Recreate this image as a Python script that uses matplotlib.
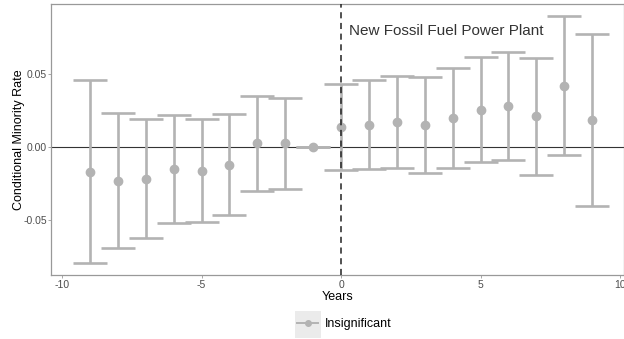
import numpy as np
import matplotlib.pyplot as plt
from matplotlib.lines import Line2D
from matplotlib.patches import Rectangle

plt.rcParams['font.family'] = ['Liberation Sans', 'DejaVu Sans']

years = [-9, -8, -7, -6, -5, -4, -3, -2, -1, 0, 1, 2, 3, 4, 5, 6, 7, 8, 9]
estimate = [-0.0171, -0.0230, -0.0218, -0.0152, -0.0161, -0.0121, 0.0025, 0.0025, 0.0,
            0.0139, 0.0152, 0.0173, 0.0152, 0.0196, 0.0255, 0.0278, 0.0209, 0.0418, 0.0182]
upper = [0.0455, 0.0230, 0.0189, 0.0218, 0.0193, 0.0223, 0.0350, 0.0334, 0.0,
         0.0430, 0.0455, 0.0486, 0.0477, 0.0537, 0.0612, 0.0646, 0.0609, 0.0894, 0.0771]
lower = [-0.0794, -0.0689, -0.0621, -0.0521, -0.0512, -0.0462, -0.0302, -0.0289, 0.0,
         -0.0157, -0.0150, -0.0141, -0.0175, -0.0141, -0.0100, -0.0091, -0.0191, -0.0052, -0.0402]

grey = '#b3b3b3'
est = np.array(estimate)
yerr = [est - np.array(lower), np.array(upper) - est]

fig = plt.figure(figsize=(6.24, 3.39), dpi=100)
ax = fig.add_axes([0.0824, 0.188, 0.9176, 0.799])

ax.axhline(0, color='#333333', linewidth=0.8, zorder=1)
ax.axvline(0, color='#222222', linewidth=1.1, linestyle=(0, (4, 3)), zorder=4)
ax.errorbar(years, estimate, yerr=yerr, fmt='none', ecolor=grey, elinewidth=1.9,
            capsize=12.5, capthick=1.9, zorder=2)
ax.plot(years, estimate, 'o', color=grey, markersize=6, zorder=3)

ax.text(0.3, 0.079, 'New Fossil Fuel Power Plant', fontsize=11, color='#333333',
        va='center', ha='left')

ax.set_xlim(-10.38, 10.14)
ax.set_ylim(-0.0875, 0.0973)
ax.set_xticks([-10, -5, 0, 5, 10])
ax.set_xticklabels(['-10', '-5', '0', '5', '10'])
ax.set_yticks([-0.05, 0.0, 0.05])
ax.set_yticklabels(['-0.05', '0.00', '0.05'])
ax.tick_params(length=2.5, width=0.6, color='#999999', labelcolor='#4d4d4d',
               labelsize=7.5, pad=0.8)
for s in ax.spines.values():
    s.set_color('#999999')
    s.set_linewidth(0.9)

ax.set_xlabel('Years', fontsize=9, labelpad=0.5)
ax.set_ylabel('Conditional Minority Rate', fontsize=9, labelpad=-1.5)

# grey legend key background
fig.patches.append(Rectangle((295 / 624, 1 / 339), 26 / 624, 27 / 339, transform=fig.transFigure,
                             facecolor='#ebebeb', edgecolor='none'))
handle = Line2D([], [], color=grey, marker='o', markersize=4, linewidth=1.4)
fig.legend([handle], ['Insignificant'], loc='center left', bbox_to_anchor=(297 / 624, 15 / 339),
           frameon=False, fontsize=9, handlelength=1.7, handletextpad=0.55,
           borderpad=0, borderaxespad=0)

fig.savefig('out.png', dpi=100)
